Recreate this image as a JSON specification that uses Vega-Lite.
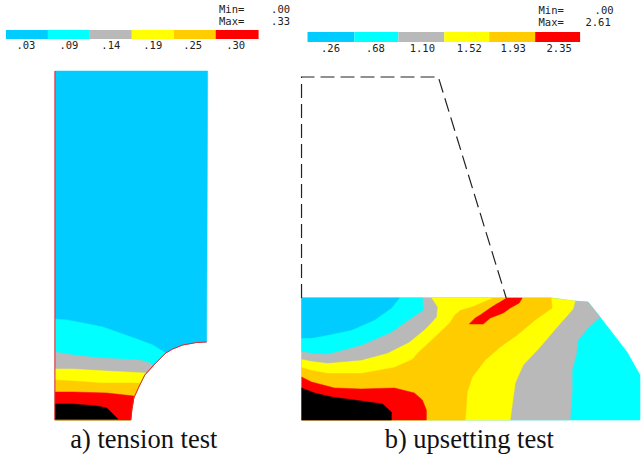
{"$schema":"https://vega.github.io/schema/vega-lite/v6.json","autosize":{"type":"fit","contains":"padding"},"width":641,"height":456,"padding":0,"background":"white","view":{"stroke":null},
"datasets":{
"regions":[
{"s":"a1","b":"blue","x":55,"y":71},{"s":"a1","b":"blue","x":208,"y":71},{"s":"a1","b":"blue","x":207,"y":342},{"s":"a1","b":"blue","x":197,"y":342.5},{"s":"a1","b":"blue","x":183,"y":345},{"s":"a1","b":"blue","x":173,"y":349},{"s":"a1","b":"blue","x":166,"y":353},{"s":"a1","b":"blue","x":154,"y":365},{"s":"a1","b":"blue","x":145,"y":375},{"s":"a1","b":"blue","x":139,"y":387},{"s":"a1","b":"blue","x":134,"y":398},{"s":"a1","b":"blue","x":132,"y":410},{"s":"a1","b":"blue","x":131,"y":420},{"s":"a1","b":"blue","x":55,"y":420},
{"s":"a2","b":"cyan","x":55,"y":319},{"s":"a2","b":"cyan","x":67,"y":320},{"s":"a2","b":"cyan","x":83,"y":323},{"s":"a2","b":"cyan","x":103,"y":327},{"s":"a2","b":"cyan","x":120,"y":333},{"s":"a2","b":"cyan","x":137,"y":339},{"s":"a2","b":"cyan","x":153,"y":345},{"s":"a2","b":"cyan","x":166,"y":353},{"s":"a2","b":"cyan","x":154,"y":365},{"s":"a2","b":"cyan","x":145,"y":375},{"s":"a2","b":"cyan","x":139,"y":387},{"s":"a2","b":"cyan","x":134,"y":398},{"s":"a2","b":"cyan","x":132,"y":410},{"s":"a2","b":"cyan","x":131,"y":420},{"s":"a2","b":"cyan","x":55,"y":420},
{"s":"a3","b":"gray","x":55,"y":352},{"s":"a3","b":"gray","x":73,"y":355},{"s":"a3","b":"gray","x":100,"y":358},{"s":"a3","b":"gray","x":140,"y":360},{"s":"a3","b":"gray","x":150,"y":363},{"s":"a3","b":"gray","x":154,"y":366},{"s":"a3","b":"gray","x":145,"y":375},{"s":"a3","b":"gray","x":139,"y":387},{"s":"a3","b":"gray","x":134,"y":398},{"s":"a3","b":"gray","x":132,"y":410},{"s":"a3","b":"gray","x":131,"y":420},{"s":"a3","b":"gray","x":55,"y":420},
{"s":"a4","b":"yellow","x":55,"y":369},{"s":"a4","b":"yellow","x":73,"y":369},{"s":"a4","b":"yellow","x":107,"y":371},{"s":"a4","b":"yellow","x":146,"y":373},{"s":"a4","b":"yellow","x":145,"y":375},{"s":"a4","b":"yellow","x":139,"y":387},{"s":"a4","b":"yellow","x":134,"y":398},{"s":"a4","b":"yellow","x":132,"y":410},{"s":"a4","b":"yellow","x":131,"y":420},{"s":"a4","b":"yellow","x":55,"y":420},
{"s":"a5","b":"orange","x":55,"y":380},{"s":"a5","b":"orange","x":73,"y":381},{"s":"a5","b":"orange","x":100,"y":383},{"s":"a5","b":"orange","x":140,"y":383},{"s":"a5","b":"orange","x":139,"y":387},{"s":"a5","b":"orange","x":134,"y":398},{"s":"a5","b":"orange","x":132,"y":410},{"s":"a5","b":"orange","x":131,"y":420},{"s":"a5","b":"orange","x":55,"y":420},
{"s":"a6","b":"red","x":55,"y":392},{"s":"a6","b":"red","x":73,"y":392},{"s":"a6","b":"red","x":107,"y":393},{"s":"a6","b":"red","x":134,"y":396},{"s":"a6","b":"red","x":134,"y":398},{"s":"a6","b":"red","x":132,"y":410},{"s":"a6","b":"red","x":131,"y":420},{"s":"a6","b":"red","x":55,"y":420},
{"s":"a7","b":"black","x":55,"y":404},{"s":"a7","b":"black","x":73,"y":404},{"s":"a7","b":"black","x":97,"y":406},{"s":"a7","b":"black","x":107,"y":408},{"s":"a7","b":"black","x":112,"y":413},{"s":"a7","b":"black","x":118,"y":419},{"s":"a7","b":"black","x":55,"y":419},
{"s":"b1","b":"cyan","x":302,"y":298},{"s":"b1","b":"cyan","x":552,"y":298},{"s":"b1","b":"cyan","x":574,"y":301},{"s":"b1","b":"cyan","x":589,"y":302},{"s":"b1","b":"cyan","x":601,"y":317},{"s":"b1","b":"cyan","x":628,"y":352},{"s":"b1","b":"cyan","x":641,"y":375},{"s":"b1","b":"cyan","x":641,"y":420},{"s":"b1","b":"cyan","x":302,"y":420},
{"s":"b2","b":"gray","x":302,"y":298},{"s":"b2","b":"gray","x":552,"y":298},{"s":"b2","b":"gray","x":574,"y":301},{"s":"b2","b":"gray","x":589,"y":302},{"s":"b2","b":"gray","x":601,"y":317},{"s":"b2","b":"gray","x":589,"y":328},{"s":"b2","b":"gray","x":579,"y":340},{"s":"b2","b":"gray","x":577,"y":355},{"s":"b2","b":"gray","x":573,"y":370},{"s":"b2","b":"gray","x":573,"y":392},{"s":"b2","b":"gray","x":571,"y":420},{"s":"b2","b":"gray","x":302,"y":420},
{"s":"b3","b":"yellow","x":302,"y":298},{"s":"b3","b":"yellow","x":552,"y":298},{"s":"b3","b":"yellow","x":576,"y":301},{"s":"b3","b":"yellow","x":574,"y":309},{"s":"b3","b":"yellow","x":558,"y":327},{"s":"b3","b":"yellow","x":541,"y":347},{"s":"b3","b":"yellow","x":524,"y":365},{"s":"b3","b":"yellow","x":516,"y":383},{"s":"b3","b":"yellow","x":511,"y":420},{"s":"b3","b":"yellow","x":302,"y":420},
{"s":"b4","b":"orange","x":302,"y":298},{"s":"b4","b":"orange","x":552,"y":298},{"s":"b4","b":"orange","x":553,"y":308},{"s":"b4","b":"orange","x":536,"y":320},{"s":"b4","b":"orange","x":518,"y":335},{"s":"b4","b":"orange","x":501,"y":347},{"s":"b4","b":"orange","x":486,"y":360},{"s":"b4","b":"orange","x":473,"y":377},{"s":"b4","b":"orange","x":468,"y":392},{"s":"b4","b":"orange","x":466,"y":420},{"s":"b4","b":"orange","x":302,"y":420},
{"s":"b5","b":"yellow","x":302,"y":298},{"s":"b5","b":"yellow","x":493,"y":298},{"s":"b5","b":"yellow","x":474,"y":306},{"s":"b5","b":"yellow","x":461,"y":310},{"s":"b5","b":"yellow","x":455,"y":315},{"s":"b5","b":"yellow","x":450,"y":323},{"s":"b5","b":"yellow","x":432,"y":340},{"s":"b5","b":"yellow","x":418,"y":353},{"s":"b5","b":"yellow","x":413,"y":359},{"s":"b5","b":"yellow","x":395,"y":367},{"s":"b5","b":"yellow","x":362,"y":373},{"s":"b5","b":"yellow","x":328,"y":373},{"s":"b5","b":"yellow","x":312,"y":370},{"s":"b5","b":"yellow","x":302,"y":367},
{"s":"b6","b":"gray","x":302,"y":298},{"s":"b6","b":"gray","x":432,"y":298},{"s":"b6","b":"gray","x":438,"y":307},{"s":"b6","b":"gray","x":437,"y":317},{"s":"b6","b":"gray","x":427,"y":328},{"s":"b6","b":"gray","x":410,"y":342},{"s":"b6","b":"gray","x":388,"y":353},{"s":"b6","b":"gray","x":362,"y":360},{"s":"b6","b":"gray","x":328,"y":363},{"s":"b6","b":"gray","x":312,"y":361},{"s":"b6","b":"gray","x":302,"y":359},
{"s":"b7","b":"cyan","x":302,"y":298},{"s":"b7","b":"cyan","x":423,"y":298},{"s":"b7","b":"cyan","x":424,"y":310},{"s":"b7","b":"cyan","x":412,"y":318},{"s":"b7","b":"cyan","x":392,"y":332},{"s":"b7","b":"cyan","x":362,"y":345},{"s":"b7","b":"cyan","x":328,"y":354},{"s":"b7","b":"cyan","x":312,"y":353},{"s":"b7","b":"cyan","x":302,"y":351},
{"s":"b8","b":"blue","x":302,"y":298},{"s":"b8","b":"blue","x":400,"y":298},{"s":"b8","b":"blue","x":392,"y":308},{"s":"b8","b":"blue","x":375,"y":320},{"s":"b8","b":"blue","x":352,"y":330},{"s":"b8","b":"blue","x":328,"y":335},{"s":"b8","b":"blue","x":312,"y":338},{"s":"b8","b":"blue","x":302,"y":338},
{"s":"b9","b":"red","x":302,"y":377},{"s":"b9","b":"red","x":312,"y":382},{"s":"b9","b":"red","x":335,"y":388},{"s":"b9","b":"red","x":362,"y":389},{"s":"b9","b":"red","x":395,"y":388},{"s":"b9","b":"red","x":415,"y":393},{"s":"b9","b":"red","x":423,"y":400},{"s":"b9","b":"red","x":427,"y":410},{"s":"b9","b":"red","x":427,"y":420},{"s":"b9","b":"red","x":302,"y":420},
{"s":"c1","b":"black","x":302,"y":388},{"s":"c1","b":"black","x":315,"y":393},{"s":"c1","b":"black","x":332,"y":397},{"s":"c1","b":"black","x":362,"y":401},{"s":"c1","b":"black","x":383,"y":404},{"s":"c1","b":"black","x":392,"y":412},{"s":"c1","b":"black","x":392,"y":420},{"s":"c1","b":"black","x":302,"y":420},
{"s":"c2","b":"red","x":507,"y":298},{"s":"c2","b":"red","x":523,"y":298},{"s":"c2","b":"red","x":520,"y":303},{"s":"c2","b":"red","x":511,"y":308},{"s":"c2","b":"red","x":504,"y":313},{"s":"c2","b":"red","x":491,"y":318},{"s":"c2","b":"red","x":484,"y":324},{"s":"c2","b":"red","x":470,"y":324},{"s":"c2","b":"red","x":476,"y":318},{"s":"c2","b":"red","x":481,"y":315},{"s":"c2","b":"red","x":491,"y":308},{"s":"c2","b":"red","x":499,"y":303}
],
"edges":[
{"s":"e1","x":55,"y":71},{"s":"e1","x":55,"y":420},
{"s":"e2","x":131,"y":420},{"s":"e2","x":132,"y":410},{"s":"e2","x":134,"y":398},{"s":"e2","x":139,"y":387},{"s":"e2","x":145,"y":375},{"s":"e2","x":154,"y":365},{"s":"e2","x":166,"y":353},{"s":"e2","x":173,"y":349},{"s":"e2","x":183,"y":345},{"s":"e2","x":197,"y":342.5},{"s":"e2","x":207,"y":342}
],
"dashes":[
{"s":"d","x":302,"y":298},{"s":"d","x":302,"y":77},{"s":"d","x":439,"y":77},{"s":"d","x":507,"y":298}
],
"bars":[
{"b":"blue","x":6,"x2":48,"y":30,"y2":39},{"b":"cyan","x":48,"x2":90,"y":30,"y2":39},{"b":"gray","x":90,"x2":132,"y":30,"y2":39},{"b":"yellow","x":132,"x2":174,"y":30,"y2":39},{"b":"orange","x":174,"x2":216,"y":30,"y2":39},{"b":"red","x":216,"x2":259,"y":30,"y2":39},
{"b":"blue","x":308,"x2":355,"y":32,"y2":42},{"b":"cyan","x":355,"x2":399,"y":32,"y2":42},{"b":"gray","x":399,"x2":445,"y":32,"y2":42},{"b":"yellow","x":445,"x2":490,"y":32,"y2":42},{"b":"orange","x":490,"x2":536,"y":32,"y2":42},{"b":"red","x":536,"x2":581,"y":32,"y2":42}
],
"small":[
{"t":".03","x":26,"y":46},{"t":".09","x":69,"y":46},{"t":".14","x":111,"y":46},{"t":".19","x":153,"y":46},{"t":".25","x":193,"y":46},{"t":".30","x":236,"y":46},
{"t":"Min=","x":232,"y":10},{"t":"Max=","x":232,"y":22},{"t":".00","x":281,"y":10},{"t":".33","x":281,"y":22},
{"t":".26","x":331,"y":49},{"t":".68","x":376,"y":49},{"t":"1.10","x":423,"y":49},{"t":"1.52","x":470,"y":49},{"t":"1.93","x":514,"y":49},{"t":"2.35","x":560,"y":49},
{"t":"Min=","x":552,"y":11},{"t":"Max=","x":552,"y":23},{"t":".00","x":605,"y":11},{"t":"2.61","x":599,"y":23}
],
"titles":[
{"t":"a) tension test","x":144,"y":440},{"t":"b) upsetting test","x":470,"y":440}
]},
"layer":[
{"data":{"name":"regions"},"mark":{"type":"line","strokeWidth":0.5,"interpolate":"linear"},
"encoding":{"x":{"field":"x","type":"quantitative","scale":{"domain":[0,641],"nice":false,"zero":false},"axis":null},"y":{"field":"y","type":"quantitative","scale":{"domain":[456,0],"nice":false,"zero":false},"axis":null},"detail":{"field":"s"},"order":{"value":null},
"fill":{"field":"b","type":"nominal","legend":null,"scale":{"domain":["blue","cyan","gray","yellow","orange","red","black"],"range":["#00CCFF","#00FFFF","#B9B9B9","#FFFF00","#FFCC00","#FF0000","#000000"]}},
"stroke":{"field":"b","type":"nominal","legend":null,"scale":{"domain":["blue","cyan","gray","yellow","orange","red","black"],"range":["#00CCFF","#00FFFF","#B9B9B9","#FFFF00","#FFCC00","#FF0000","#000000"]}}}},
{"data":{"name":"edges"},"mark":{"type":"line","strokeWidth":1,"color":"#E8202A"},"encoding":{"x":{"field":"x","type":"quantitative"},"y":{"field":"y","type":"quantitative"},"detail":{"field":"s"},"order":{"value":null}}},
{"data":{"name":"dashes"},"mark":{"type":"line","strokeWidth":1.2,"color":"#222222","strokeDash":[14,6]},"encoding":{"x":{"field":"x","type":"quantitative"},"y":{"field":"y","type":"quantitative"},"order":{"value":null}}},
{"data":{"name":"bars"},"mark":{"type":"rect"},"encoding":{"x":{"field":"x","type":"quantitative"},"x2":{"field":"x2"},"y":{"field":"y","type":"quantitative"},"y2":{"field":"y2"},"fill":{"field":"b","type":"nominal","legend":null}}},
{"data":{"name":"small"},"mark":{"type":"text","font":"DejaVu Sans Mono","fontSize":10.5,"color":"#222222","baseline":"middle","align":"center"},"encoding":{"x":{"field":"x","type":"quantitative"},"y":{"field":"y","type":"quantitative"},"text":{"field":"t"}}},
{"data":{"name":"titles"},"mark":{"type":"text","font":"Liberation Serif","fontSize":26.5,"color":"#111111","baseline":"middle","align":"center"},"encoding":{"x":{"field":"x","type":"quantitative"},"y":{"field":"y","type":"quantitative"},"text":{"field":"t"}}}
]}
